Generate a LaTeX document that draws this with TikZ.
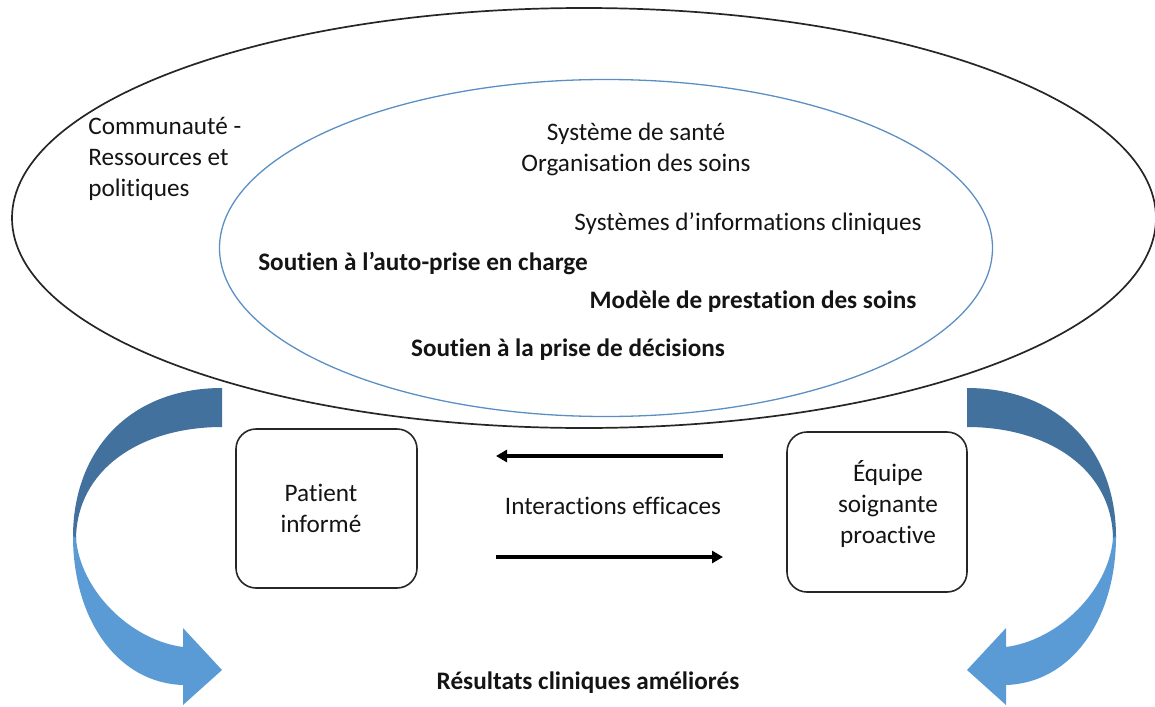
\documentclass[tikz,border=0pt]{standalone}
\usepackage{fontspec}
\setmainfont{Carlito}[Ligatures=NoCommon]
\usetikzlibrary{shapes.geometric,arrows.meta}
\definecolor{innerblue}{HTML}{5B8FC4}
\definecolor{arrdark}{HTML}{41719C}
\definecolor{arrlight}{HTML}{5B9BD5}
\definecolor{txtc}{HTML}{141414}
\newcommand{\mycurvedarrow}{%
  \fill[arrdark] (222,388) .. controls (130,388) and (73,450) .. (73,537)
    -- (76,540) .. controls (76,470) and (140,427) .. (222,427) -- cycle;
  \fill[arrlight] (73,536) .. controls (73,620) and (118,683) .. (183,685)
    -- (183,705) -- (222,670) -- (183,628) -- (183,647)
    .. controls (130,640) and (80,590) .. (76,538) -- cycle;
}
\begin{document}
\begin{tikzpicture}[x=0.5pt,y=-0.5pt,
  font=\fontsize{12.6}{15.5}\selectfont, text=txtc,
  txt/.style={inner sep=0pt, align=center},
  bx/.style={draw=black!85, line width=0.8pt, rounded corners=10pt, inner sep=0pt},
  ia/.style={line width=1.6pt, -{Triangle[length=5.5pt,width=6pt]}},
  ]
\useasboundingbox (0,0) rectangle (1155,706);
% ellipses
\node[ellipse, draw=black!85, line width=0.85pt, minimum width=572pt, minimum height=210pt, inner sep=0pt] (outer) at (584,218) {};
\node[ellipse, draw=innerblue, line width=0.65pt, minimum width=386.5pt, minimum height=168.5pt, inner sep=0pt] (inner) at (606,248) {};
% texts in ellipses
\node[txt, align=left, anchor=west] (comm) at (88,159) {Communauté -\\Ressources et\\politiques};
\node[txt] (sys) at (636,149) {Système de santé\\Organisation des soins};
\node[txt] (sic) at (748,224) {Systèmes d’informations cliniques};
\node[txt, font=\fontsize{12.6}{15.5}\selectfont\bfseries] (auto) at (423,263) {Soutien à l’auto-prise en charge};
\node[txt, font=\fontsize{12.6}{15.5}\selectfont\bfseries] (mod) at (753,302) {Modèle de prestation des soins};
\node[txt, font=\fontsize{12.6}{15.5}\selectfont\bfseries] (dec) at (568,350) {Soutien à la prise de décisions};
% boxes
\node[bx, minimum width=90.5pt, minimum height=79.5pt] (pbox) at (326.5,508.5) {};
\node[txt] (ptxt) at (321,508) {Patient\\informé};
\node[bx, minimum width=90pt, minimum height=80pt] (ebox) at (877,512) {};
\node[txt] (etxt) at (888,504) {Équipe\\soignante\\proactive};
% interactions
\node[txt] (inter) at (613,506) {Interactions efficaces};
\coordinate (a1s) at (723,456);
\coordinate (a1e) at (496,456);
\coordinate (a2s) at (496,557);
\coordinate (a2e) at (723,557);
\draw[ia] (a1s) -- (a1e);
\draw[ia] (a2s) -- (a2e);
% results
\node[txt, font=\fontsize{12.6}{15.5}\selectfont\bfseries] (res) at (588,683) {Résultats cliniques améliorés};
% curved arrows
\mycurvedarrow
\begin{scope}[shift={(1189,0)}, xscale=-1]
\mycurvedarrow
\end{scope}
\end{tikzpicture}
\end{document}
